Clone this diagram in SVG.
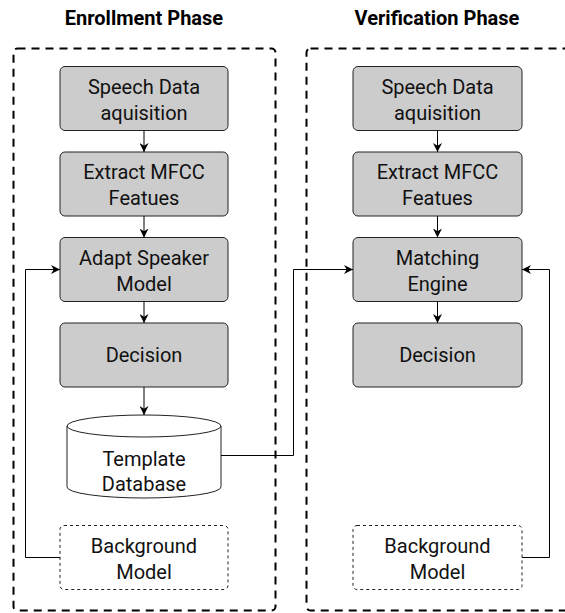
<svg xmlns="http://www.w3.org/2000/svg" width="565" height="613" viewBox="0 0 565 613">
<defs>
<marker id="arr" viewBox="0 0 10 10" refX="10" refY="5" markerWidth="9" markerHeight="9" markerUnits="userSpaceOnUse" orient="auto">
<path d="M0,0 L10,5 L0,10 L3,5 z" fill="#000"/>
</marker>
<style>
.title{font-family:Roboto,"Liberation Sans",sans-serif;font-weight:bold;font-size:20px;fill:#000;text-anchor:middle}
.lbl{font-family:Roboto,"Liberation Sans",sans-serif;font-size:20px;fill:#111;text-anchor:middle}
.box{fill:#cccccc;stroke:#222;stroke-width:1}
.bg{fill:#fff;stroke:#222;stroke-width:1;stroke-dasharray:3 3}
.cont{fill:none;stroke:#000;stroke-width:2;stroke-dasharray:8 6}
.conn{fill:none;stroke:#000;stroke-width:1;marker-end:url(#arr)}
.line{fill:none;stroke:#000;stroke-width:1}
</style>
</defs>
<rect width="565" height="613" fill="#fff"/>
<text class="title" x="144" y="25">Enrollment Phase</text>
<text class="title" x="437" y="25">Verification Phase</text>
<g id="enrollment-container"><rect class="cont" x="13.5" y="48.5" width="262" height="562" rx="4"/></g>
<g id="verification-container"><rect class="cont" x="306.5" y="48.5" width="280" height="562" rx="4"/></g>

<g id="e-speech"><rect class="box" x="60" y="66.5" width="168" height="64" rx="5"/><text class="lbl" x="144" y="94">Speech Data</text><text class="lbl" x="144" y="120">aquisition</text></g>
<g id="e-extract"><rect class="box" x="60" y="152" width="168" height="64" rx="5"/><text class="lbl" x="144" y="179">Extract MFCC</text><text class="lbl" x="144" y="205">Featues</text></g>
<g id="e-adapt"><rect class="box" x="60" y="237.5" width="168" height="64" rx="5"/><text class="lbl" x="144" y="265">Adapt Speaker</text><text class="lbl" x="144" y="291">Model</text></g>
<g id="e-decision"><rect class="box" x="60" y="323" width="168" height="64" rx="5"/><text class="lbl" x="144" y="362">Decision</text></g>
<g id="e-db">
<path d="M67,426 A77,11 0 0,1 221,426 V487 A77,11 0 0,1 67,487 Z" fill="#fff" stroke="#222" stroke-width="1"/>
<path d="M67,426 A77,11 0 0,0 221,426" fill="none" stroke="#222" stroke-width="1"/>
<text class="lbl" x="144" y="466">Template</text><text class="lbl" x="144" y="491">Database</text>
</g>
<g id="e-bg"><rect class="bg" x="60" y="525.5" width="168" height="64" rx="4"/><text class="lbl" x="144" y="553">Background</text><text class="lbl" x="144" y="579">Model</text></g>

<g id="v-speech"><rect class="box" x="353" y="66.5" width="169" height="64" rx="5"/><text class="lbl" x="437.5" y="94">Speech Data</text><text class="lbl" x="437.5" y="120">aquisition</text></g>
<g id="v-extract"><rect class="box" x="353" y="152" width="169" height="64" rx="5"/><text class="lbl" x="437.5" y="179">Extract MFCC</text><text class="lbl" x="437.5" y="205">Featues</text></g>
<g id="v-matching"><rect class="box" x="353" y="237.5" width="169" height="64" rx="5"/><text class="lbl" x="437.5" y="265">Matching</text><text class="lbl" x="437.5" y="291">Engine</text></g>
<g id="v-decision"><rect class="box" x="353" y="323" width="169" height="64" rx="5"/><text class="lbl" x="437.5" y="362">Decision</text></g>
<g id="v-bg"><rect class="bg" x="353" y="525.5" width="169" height="64" rx="4"/><text class="lbl" x="437.5" y="553">Background</text><text class="lbl" x="437.5" y="579">Model</text></g>

<g id="connectors">
<path class="conn" d="M144,130.5 V152"/>
<path class="conn" d="M144,216 V237.5"/>
<path class="conn" d="M144,301.5 V323"/>
<path class="conn" d="M144,387 V415"/>
<path class="conn" d="M60,557.5 H25.5 V269.5 H60"/>
<path class="conn" d="M437.5,130.5 V152"/>
<path class="conn" d="M437.5,216 V237.5"/>
<path class="conn" d="M437.5,301.5 V323"/>
<path class="conn" d="M221,455.5 H293.5 V269.5 H353"/>
<path class="conn" d="M522,557.5 H549.5 V269.5 H522"/>
</g>
</svg>
